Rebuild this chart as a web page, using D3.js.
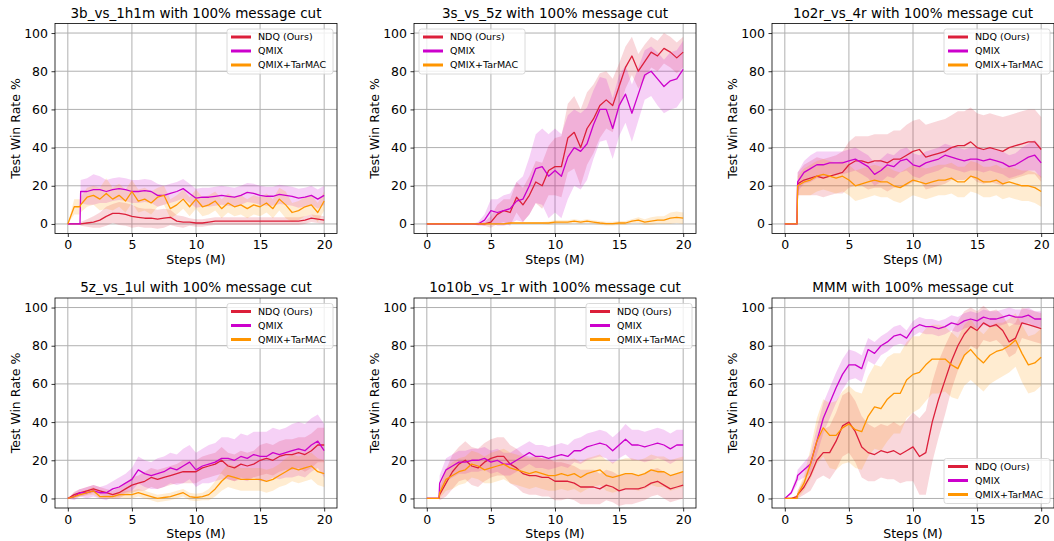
<!DOCTYPE html>
<html>
<head>
<meta charset="utf-8">
<script src="https://cdn.jsdelivr.net/npm/d3@7"></script>
<style>
  body { margin: 0; background: #fff; }
  svg { display: block; font-family: 'DejaVu Sans', sans-serif; }
</style>
</head>
<body>
<svg id="chart" width="1054" height="541"></svg>
<script>
// x positions (millions of steps) shared by every series
const steps = [0, 0.5, 0.95, 1, 1.5, 2, 2.5, 3, 3.5, 4, 4.5, 5, 5.5, 6, 6.5, 7, 7.5, 8, 8.5, 9, 9.5,
  10, 10.5, 11, 11.5, 12, 12.5, 13, 13.5, 14, 14.5, 15, 15.5, 16, 16.5, 17, 17.5, 18, 18.5, 19, 19.5, 20]

const seriesNames = ['NDQ (Ours)', 'QMIX', 'QMIX+TarMAC']
const colors = ['#dc1f3a', '#cc00cc', '#ff9500']
const titles = ['3b_vs_1h1m with 100% message cut', '3s_vs_5z with 100% message cut', '1o2r_vs_4r with 100% message cut',
  '5z_vs_1ul with 100% message cut', '1o10b_vs_1r with 100% message cut', 'MMM with 100% message cut']
const legendPlaces = ['ur', 'ul', 'ur', 'ur', 'ur', 'lr']
const xTicks = [0, 5, 10, 15, 20]
const yTicks = [0, 20, 40, 60, 80, 100]

// 3b_vs_1h1m
const p1Ndq = [0,0,0, 0,0.5,1,2,4,5.5,5.5,5, 4,3.5,3,3,2.5,3,3.5,1.5,1,1, 0.5,0.5,1,1.5,1.5,1.5,1.5,1.5,1.5,1.5, 1.5,1.5,1.5,1.5,1.5,1.5,1.5,2,3,2.5,2]
const p1NdqStd = [0,0,0, 1,2,3,4,5,5,6,6, 6,5,5,5,5,5,4,3,3,2, 2,2,2,2,2,2,2,2,2,2, 2,2,2,2,2,2,2,2,2,2,2]
const p1Qmix = [0,0,0, 17,17,18,18,17,18,18.5,18, 17,17,17.5,17,15,15,16,17,18.5,16, 13.5,14,14,14.5,15,14.5,14,15,16.5,16, 15,14.5,14.5,15.5,15,14.5,13.5,14,15,13,15]
const p1QmixStd = [0,0,0, 6,7,8,7,6,6,6,6, 6,6,6,6,6,5,5,5,5,5, 5,5,5,5,5,5,5,5,5,5, 5,5,5,5,5,5,5,5,5,5,5]
const p1Tar = [0,9,9, 10,14,15,13,16,13,15,12, 17,12,13,11,14,15,8,10,13,9, 13,9,10,12,8,11,9,10,8,10, 9,11,8,13,10,6,7,9,10,6,12]
const p1TarStd = [0,4,4, 4,5,5,6,8,6,6,6, 6,6,6,6,5,5,5,5,5,5, 5,5,5,5,5,5,5,5,5,5, 5,5,5,6,7,5,5,5,5,5,5]

// 3s_vs_5z
const p2Ndq = [0,0,0, 0,0,0,0,0,0,0,0, 1,5,7,6,14,10,15,22,20,28, 30,30,45,48,40,50,55,62,65,62, 72,82,88,80,85,90,88,92,90,87,90]
const p2NdqStd = [0,0,0, 0,0,0,0,0,0,0,1, 3,5,6,7,8,9,10,11,12,13, 15,16,18,19,20,19,18,17,15,14, 12,11,10,9,9,8,8,8,8,8,8]
const p2Qmix = [0,0,0, 0,0,0,0,0,0,0,2, 7,6,7,8,12,13,20,29,30,25, 28,25,35,40,38,42,52,60,60,50, 62,68,58,68,78,80,76,72,75,76,81]
const p2QmixStd = [0,0,0, 0,0,0,0,0,0,1,3, 6,7,8,8,10,12,15,18,20,22, 22,22,22,20,20,19,18,17,16,16, 16,15,15,14,13,13,14,14,15,15,15]
const p2Tar = [0,0,0, 0,0,0,0,0,0,0,0, 0,0,0,0.5,0.5,0.5,0.5,0.5,0.5,0.5, 1,1,1,1.5,1,1.5,1,0.5,0.2,0.2, 0.5,0.5,1.5,2,1,1.5,2,2,3,3.5,3]
const p2TarStd = [0,0,0, 0,0,0,0,0,0,0,0, 0,0.3,0.5,0.5,0.5,0.5,0.5,0.5,0.5,0.8, 1,1,1,1,1,1,1,1,1,1, 1,1,1,1.5,1.5,2,2,2,3,3,3]

// 1o2r_vs_4r
const p3Ndq = [0,0,0, 21,23,24,25,24,25,26,27, 31,33,33,32,33,33,32,34,34,36, 38,39,35,36,37,38,40,41,41,43, 40,39,40,39,38,40,41,42,43,43,39]
const p3NdqStd = [0,0,0, 6,8,9,10,10,10,10,11, 12,13,13,14,14,14,15,15,15,16, 16,16,17,17,17,17,17,18,18,18, 18,18,18,18,18,17,17,17,17,17,17]
const p3Qmix = [0,0,0, 22,27,29,31,31,32,32,32, 33,34,32,30,26,28,31,30,33,34, 31,30,32,33,34,36,35,34,33,34, 34,33,34,33,32,30,31,33,35,36,32]
const p3QmixStd = [0,0,0, 5,6,7,7,7,6,6,6, 6,6,6,6,6,6,6,6,6,6, 6,6,6,6,6,6,6,6,6,6, 6,6,6,6,6,6,6,7,7,8,8]
const p3Tar = [0,0,0, 20,22,23,25,26,25,24,25, 23,20,21,22,23,22,22,20,19,21, 23,22,21,22,23,23,24,22,22,25, 24,22,22,23,21,22,21,20,20,19,17]
const p3TarStd = [0,0,0, 5,7,8,8,8,8,8,8, 8,8,8,8,8,8,8,8,8,8, 8,8,8,8,8,8,8,8,8,8, 8,8,8,8,8,8,8,8,8,8,8]

// 5z_vs_1ul
const p4Ndq = [0,2,3, 3,4,5,4,3,2,3,5, 7,8,9,11,10,11,12,13,14,14, 14,16,17,18,20,17,16,18,17,18, 20,21,20,22,23,23,24,23,25,28,28]
const p4NdqStd = [0,1.5,2, 2,2,2,2,2,2,3,3, 4,4,5,5,5,5,5,5,6,6, 6,6,6,6,7,7,7,7,7,7, 8,8,8,8,8,8,8,9,9,9,9]
const p4Qmix = [0,1,3, 3,3,4,3,3,5,6,8, 10,15,13,12,13,14,16,15,17,19, 15,17,18,19,21,21,20,22,21,23, 22,22,24,23,24,25,26,25,28,30,25]
const p4QmixStd = [0,2,2, 2,3,3,3,4,4,5,5, 6,7,7,7,8,8,8,8,9,9, 9,9,10,10,11,11,11,12,12,12, 13,13,13,13,13,14,14,14,14,14,14]
const p4Tar = [0,1,2, 2,3,4,1,1,1,2,2, 2,3,2,1,0,0.5,1,2,3,1, 0.5,1,2,5,9,12,11,10,10,10, 10,9,10,12,14,16,15,16,17,14,13]
const p4TarStd = [0,1,1, 1,1.5,2,1,1,1,1.5,2, 2,2,2,2,2,2,2,2,2,2, 2,2,3,4,5,6,6,6,6,6, 6,6,6,6,7,7,7,7,7,7,7]

// 1o10b_vs_1r
const p5Ndq = [0,0,0, 2,8,14,18,20,17,16,19, 21,22,22,18,16,13,12,12,11,11, 9,9,9,8,6,6,6,5,7,6, 4,5,5,5,6,8,9,7,5,6,7]
const p5NdqStd = [0,0,0, 3,7,9,9,10,10,10,10, 10,10,10,10,10,10,10,10,10,10, 10,10,9,9,9,9,9,8,8,8, 8,8,8,7,7,7,7,7,7,7,7]
const p5Qmix = [0,0,0, 8,15,17,19,19,20,20,21, 19,20,18,18,20,22,24,22,22,21, 22,23,22,25,25,27,28,29,28,25, 28,31,28,28,27,28,29,28,26,28,28]
const p5QmixStd = [0,0,0, 4,6,6,6,6,6,6,6, 6,6,6,6,6,6,6,6,6,6, 6,6,6,6,7,7,7,7,7,7, 7,8,8,8,8,8,8,8,8,8,8]
const p5Tar = [0,0,0, 3,10,12,14,15,18,17,15, 16,17,18,16,15,14,13,14,13,12, 12,13,12,13,11,13,14,15,12,11, 12,13,13,12,13,15,14,14,12,13,14]
const p5TarStd = [0,0,0, 3,6,7,7,7,7,7,7, 8,8,8,8,8,8,8,8,8,8, 8,8,8,8,8,8,8,8,8,8, 8,8,8,8,8,8,8,8,8,8,8]

// MMM
const p6Ndq = [0,0,1, 2,6,12,20,24,24,30,38, 40,35,27,24,23,25,24,25,23,25, 27,22,24,40,52,62,72,80,86,90, 88,92,90,91,88,82,84,92,91,90,89]
const p6NdqStd = [0,0,1, 2,4,8,10,12,14,15,16, 16,16,16,15,14,14,14,15,15,16, 18,20,22,21,20,18,15,13,12,10, 10,9,8,8,8,8,8,8,8,8,8]
const p6Qmix = [0,3,10, 12,15,18,30,42,50,58,65, 70,70,68,78,76,80,82,85,86,84, 89,91,90,90,89,90,92,91,93,94, 93,95,94,94,95,96,95,95,96,94,94]
const p6QmixStd = [0,1,3, 3,4,5,7,8,8,8,8, 8,7,7,6,6,5,5,5,5,4, 4,4,4,4,4,4,4,4,4,4, 4,4,4,4,4,4,4,4,4,4,4]
const p6Tar = [0,0,0, 2,8,18,30,37,33,33,37, 39,36,35,43,48,47,52,55,55,62, 65,66,70,73,73,73,70,68,75,78, 74,71,75,77,78,80,83,76,70,71,74]
const p6TarStd = [0,0,0, 2,4,8,12,15,17,18,19, 20,20,20,21,22,22,22,21,21,20, 20,19,19,18,18,17,17,16,16,16, 15,15,15,15,14,14,14,15,15,15,15]

const panelData = [
  [[p1Ndq, p1NdqStd], [p1Qmix, p1QmixStd], [p1Tar, p1TarStd]],
  [[p2Ndq, p2NdqStd], [p2Qmix, p2QmixStd], [p2Tar, p2TarStd]],
  [[p3Ndq, p3NdqStd], [p3Qmix, p3QmixStd], [p3Tar, p3TarStd]],
  [[p4Ndq, p4NdqStd], [p4Qmix, p4QmixStd], [p4Tar, p4TarStd]],
  [[p5Ndq, p5NdqStd], [p5Qmix, p5QmixStd], [p5Tar, p5TarStd]],
  [[p6Ndq, p6NdqStd], [p6Qmix, p6QmixStd], [p6Tar, p6TarStd]],
]

const svg = d3.select('#chart')
const colLeft = [55, 414, 772]
const rowTop = [23.5, 298]
const w = 282
const h = 210

panelData.forEach((series, i) => {
  const left = colLeft[i % 3]
  const top = rowTop[Math.floor(i / 3)]
  const g = svg.append('g').attr('transform', `translate(${left},${top})`)

  const x = d3.scaleLinear().domain([-1, 21]).range([0, w])
  const y = d3.scaleLinear().domain([-5, 105]).range([h, 0])

  // grid
  g.append('g')
    .selectAll('line')
    .data(xTicks)
    .join('line')
    .attr('x1', d => x(d)).attr('x2', d => x(d))
    .attr('y1', 0).attr('y2', h)
    .attr('stroke', '#b0b0b0').attr('stroke-width', 1)
  g.append('g')
    .selectAll('line')
    .data(yTicks)
    .join('line')
    .attr('x1', 0).attr('x2', w)
    .attr('y1', d => y(d)).attr('y2', d => y(d))
    .attr('stroke', '#b0b0b0').attr('stroke-width', 1)

  const clip = g.append('clipPath').attr('id', 'clip' + i)
  clip.append('rect').attr('width', w).attr('height', h)
  const plot = g.append('g').attr('clip-path', `url(#clip${i})`)

  series.forEach(([mean, std], k) => {
    const pts = steps.map((s, j) => ({ s, m: mean[j], sd: std[j] }))
    const area = d3.area().x(d => x(d.s)).y0(d => y(d.m - d.sd)).y1(d => y(d.m + d.sd))
    plot.append('path').datum(pts).attr('d', area)
      .attr('fill', colors[k]).attr('fill-opacity', 0.18)
  })
  series.forEach(([mean], k) => {
    const line = d3.line().x((d, j) => x(steps[j])).y(d => y(d))
    plot.append('path').datum(mean).attr('d', line)
      .attr('fill', 'none').attr('stroke', colors[k]).attr('stroke-width', 1.3)
      .attr('stroke-linejoin', 'round')
  })

  // axes
  const xAxis = d3.axisBottom(x).tickValues(xTicks).tickSize(3.5).tickPadding(3.5)
  const yAxis = d3.axisLeft(y).tickValues(yTicks).tickSize(3.5).tickPadding(3.5)
  const gx = g.append('g').attr('transform', `translate(0,${h})`).call(xAxis)
  const gy = g.append('g').call(yAxis)
  ;[gx, gy].forEach(a => {
    a.select('.domain').remove()
    a.selectAll('text').attr('font-size', 12.5).attr('fill', '#000').attr('font-family', 'DejaVu Sans')
    a.selectAll('line').attr('stroke', '#000').attr('stroke-width', 0.8)
  })

  g.append('rect').attr('width', w).attr('height', h)
    .attr('fill', 'none').attr('stroke', '#000').attr('stroke-width', 0.8)

  g.append('text').attr('x', w / 2).attr('y', -6).attr('text-anchor', 'middle')
    .attr('font-size', 13.5).text(titles[i])
  g.append('text').attr('x', w / 2).attr('y', h + 30).attr('text-anchor', 'middle')
    .attr('font-size', 12.5).text('Steps (M)')
  g.append('text').attr('transform', `translate(-35,${h / 2}) rotate(-90)`)
    .attr('text-anchor', 'middle').attr('font-size', 12.5).text('Test Win Rate %')

  // legend
  const lw = 106, lh = 45
  const place = legendPlaces[i]
  const lx = place === 'ul' ? 5 : w - lw - 4
  const ly = place === 'lr' ? h - lh - 4.5 : 5.5
  const leg = g.append('g').attr('transform', `translate(${lx},${ly})`)
  leg.append('rect').attr('width', lw).attr('height', lh).attr('rx', 2.5)
    .attr('fill', '#fff').attr('fill-opacity', 0.8).attr('stroke', '#d0d0d0').attr('stroke-width', 0.8)
  seriesNames.forEach((name, k) => {
    const yy = 8 + k * 14
    leg.append('line').attr('x1', 4).attr('x2', 24).attr('y1', yy).attr('y2', yy)
      .attr('stroke', colors[k]).attr('stroke-width', 3)
    leg.append('text').attr('x', 31).attr('y', yy).attr('dy', '0.35em')
      .attr('font-size', 9.5).text(name)
  })
})
</script>
</body>
</html>
